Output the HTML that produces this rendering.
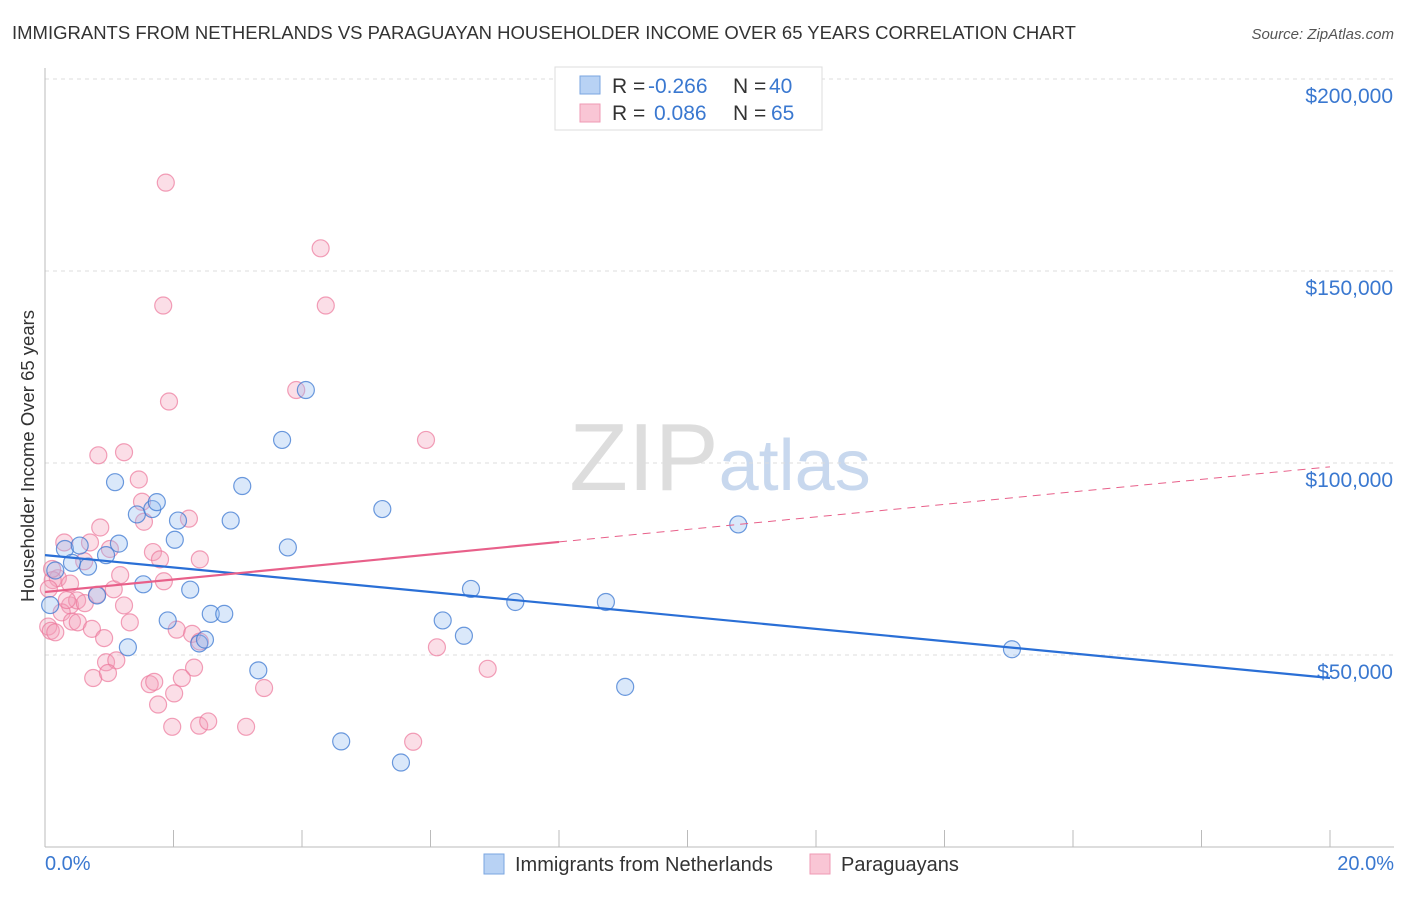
<!DOCTYPE html>
<html><head><meta charset="utf-8"><style>
body{margin:0;background:#fff;font-family:"Liberation Sans",sans-serif}
svg text{font-family:"Liberation Sans",sans-serif}
</style></head><body>
<svg id="c" width="1406" height="892">
<text x="12" y="39" font-size="18.5" fill="#333">IMMIGRANTS FROM NETHERLANDS VS PARAGUAYAN HOUSEHOLDER INCOME OVER 65 YEARS CORRELATION CHART</text>
<text x="1394" y="39" font-size="15" fill="#555" font-style="italic" text-anchor="end">Source: ZipAtlas.com</text>
<text x="720" y="490" font-size="96" fill="#ddd" text-anchor="middle" font-family="Liberation Serif">ZIP<tspan fill="#c8d8ee" font-family="Liberation Sans" font-size="72">atlas</tspan></text>
<g id="grid"></g>
<line x1="45" y1="68" x2="45" y2="847" stroke="#bbb"/>
<line x1="45" y1="847" x2="1394" y2="847" stroke="#bbb"/>
<text transform="translate(34,456) rotate(-90)" font-size="18.5" fill="#333" text-anchor="middle">Householder Income Over 65 years</text>
<text x="45" y="870" font-size="20" fill="#3a78d0">0.0%</text>
<text x="1394" y="870" font-size="20" fill="#3a78d0" text-anchor="end">20.0%</text>
<g id="pts"></g>
<g id="lines"></g>
<g>
<rect x="555" y="67" width="267" height="63" fill="#fff" stroke="#ddd"/>
<rect x="580" y="76" width="20" height="18" fill="#b8d2f4" stroke="#7aa6e0"/>
<rect x="580" y="104" width="20" height="18" fill="#f9c6d5" stroke="#ef9ab4"/>
<text x="612" y="93" font-size="21" fill="#333">R =</text>
<text x="648" y="93" font-size="21" fill="#3a78d0">-0.266</text>
<text x="733" y="93" font-size="21" fill="#333">N =</text>
<text x="769" y="93" font-size="21" fill="#3a78d0">40</text>
<text x="612" y="120" font-size="21" fill="#333">R =</text>
<text x="654" y="120" font-size="21" fill="#3a78d0">0.086</text>
<text x="733" y="120" font-size="21" fill="#333">N =</text>
<text x="771" y="120" font-size="21" fill="#3a78d0">65</text>
</g>
<g>
<rect x="484" y="854" width="20" height="20" fill="#b8d2f4" stroke="#7aa6e0"/>
<text x="515" y="871" font-size="20" fill="#333">Immigrants from Netherlands</text>
<rect x="810" y="854" width="20" height="20" fill="#f9c6d5" stroke="#ef9ab4"/>
<text x="841" y="871" font-size="20" fill="#333">Paraguayans</text>
</g>
</svg>
<script>
const yTicks=[50000,100000,150000,200000];
const yTickLabels=["$50,000","$100,000","$150,000","$200,000"];
const blueX=[0.16,0.08,0.31,0.42,0.54,0.67,0.81,0.95,1.09,1.15,1.43,1.53,1.67,1.74,1.91,2.02,2.07,2.26,2.40,2.49,2.58,2.79,2.89,3.07,3.32,3.69,3.78,4.06,4.61,5.25,5.54,6.19,6.52,6.63,7.32,8.73,9.03,10.79,15.05,1.29];
const blueY=[72000,63000,77600,74000,78500,73000,65500,76000,95000,79000,86600,68400,88000,89800,59000,80000,85000,67000,53000,54000,60700,60700,85000,94000,46000,106000,78000,119000,27500,88000,22000,59000,55000,67200,63800,63800,41700,84000,51500,52000];
const pinkX=[1.88,4.29,1.84,4.37,3.91,1.93,5.93,0.83,1.23,1.46,1.51,1.54,2.24,0.86,0.30,0.70,1.01,1.68,0.61,0.20,0.12,0.39,1.07,1.85,0.06,0.39,0.50,0.62,1.23,0.81,0.26,0.42,0.51,1.32,0.73,0.92,2.05,2.29,2.41,0.05,0.09,6.10,0.95,1.11,2.32,6.89,0.75,0.98,1.63,1.70,2.13,3.41,2.01,1.76,2.40,2.54,3.13,1.98,5.73,0.11,1.79,2.41,1.17,0.16,0.34];
const pinkY=[173000,155900,141000,141000,119000,116000,106000,102000,102800,95700,89900,84700,85500,83200,79300,79300,77600,76800,74400,70000,69500,68600,67100,69200,67200,62900,64200,63500,62900,65700,61100,58700,58500,58500,56800,54400,56600,55500,53500,57400,56300,52000,48100,48600,46700,46400,44000,45300,42400,43000,44000,41400,40000,37100,31600,32700,31300,31300,27400,72400,74900,74900,70800,55900,64300];
const blueFit=[76000,44000];
const pinkFit=[66400,99000];
const ns="http://www.w3.org/2000/svg";
const X=p=>45+p*64.25, Y=v=>847-v/260.4;
function mk(t,a,parent){const e=document.createElementNS(ns,t);for(const k in a)e.setAttribute(k,a[k]);document.getElementById(parent).appendChild(e);return e;}
yTicks.forEach((v,i)=>{
 const l=mk('line',{x1:45,x2:1394,y1:Y(v),y2:Y(v),stroke:'#ddd','stroke-dasharray':'4,4'},'grid');
 
 
 const t=mk('text',{x:1393,y:Y(v)+24,'font-size':21,fill:'#3a78d0','text-anchor':'end'},'grid');
 t.textContent=yTickLabels[i];
 
 
});
for(let i=1;i<=10;i++){
 const t=mk('line',{x1:X(i*2),x2:X(i*2),y1:830,y2:847,stroke:'#bbb'},'grid');
 
 
}
pinkX.forEach((x,i)=>{
 const c=mk('circle',{cx:X(x),cy:Y(pinkY[i]),r:8.5,fill:'rgba(244,160,185,0.35)',stroke:'rgba(236,120,155,0.7)','stroke-width':1.2},'pts');
 
 
});
blueX.forEach((x,i)=>{
 const c=mk('circle',{cx:X(x),cy:Y(blueY[i]),r:8.5,fill:'rgba(150,190,240,0.35)',stroke:'rgba(60,120,210,0.75)','stroke-width':1.2},'pts');
 
 
});
const bl=mk('line',{x1:X(0),y1:Y(blueFit[0]),x2:X(20),y2:Y(blueFit[1]),stroke:'#2a6fd6','stroke-width':2.2},'lines');


const pm=pinkFit[0]+(pinkFit[1]-pinkFit[0])*8/20;
const ps=mk('line',{x1:X(0),y1:Y(pinkFit[0]),x2:X(8),y2:Y(pm),stroke:'#e8608a','stroke-width':2.2},'lines');


const pd=mk('line',{x1:X(8),y1:Y(pm),x2:X(20),y2:Y(pinkFit[1]),stroke:'#e8608a','stroke-width':1,'stroke-dasharray':'8,6'},'lines');


</script>
</body></html>
